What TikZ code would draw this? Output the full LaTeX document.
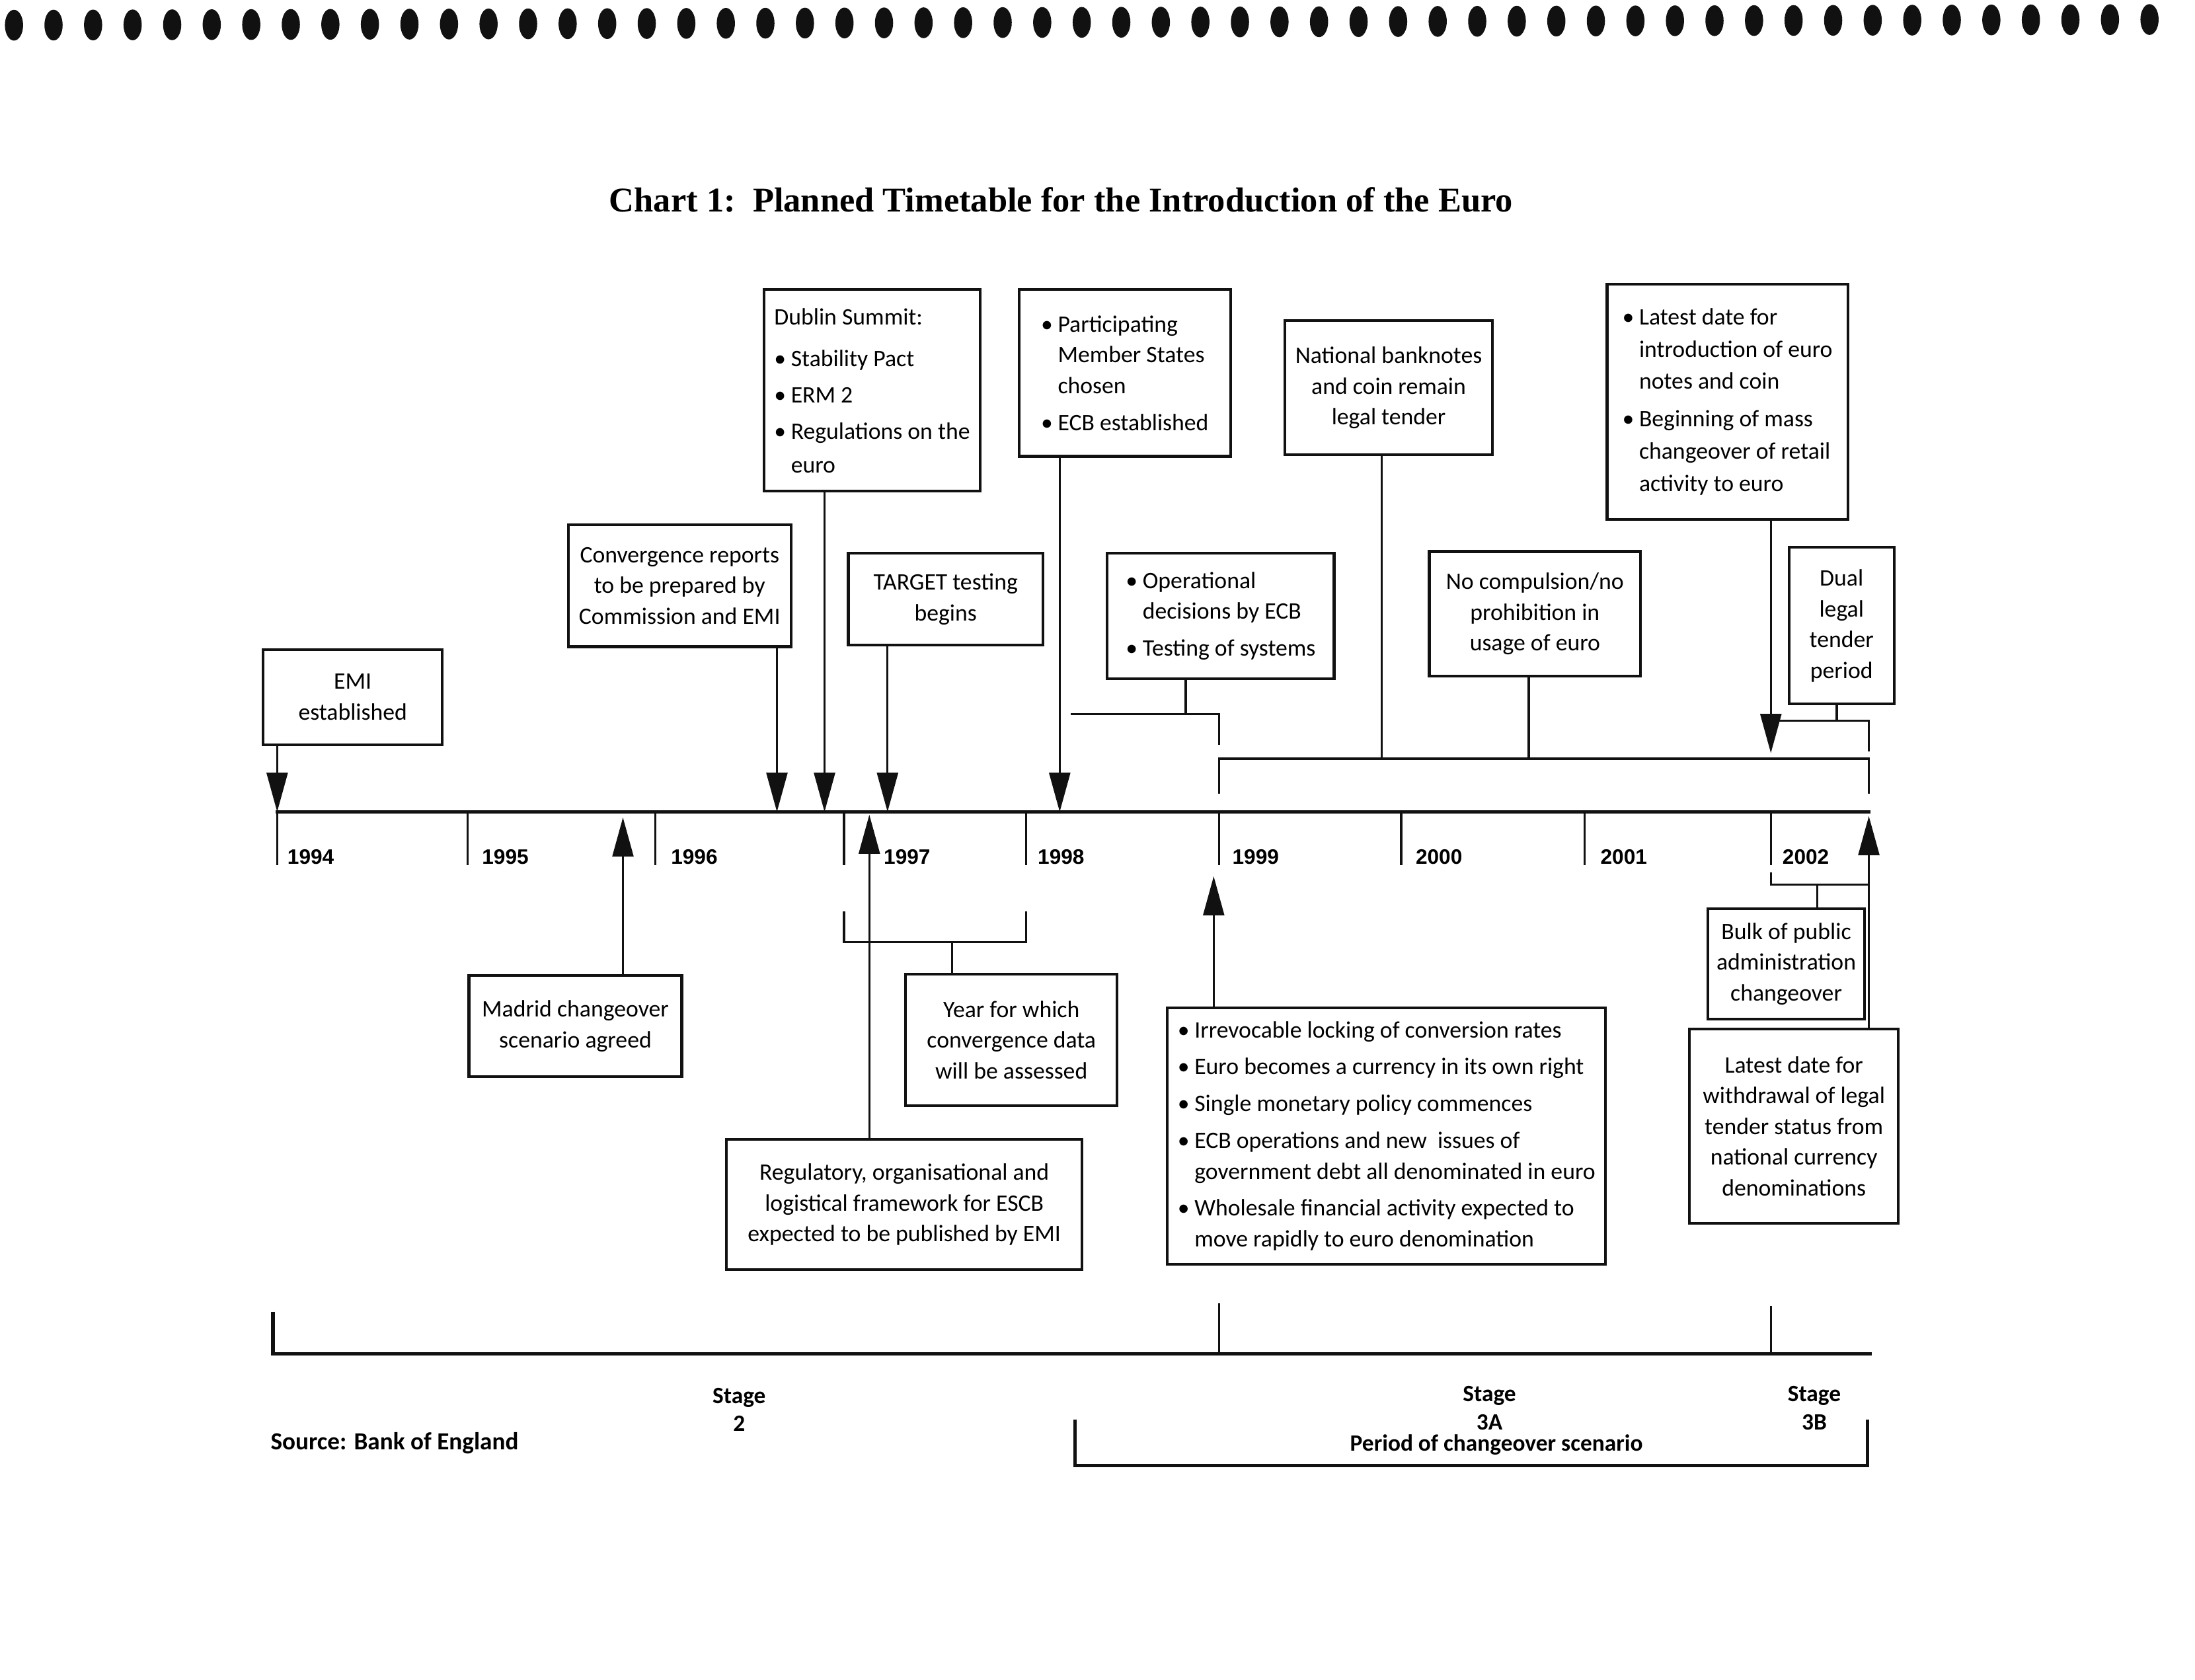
\documentclass[tikz,border=0pt]{standalone}
\usepackage{fontspec}
\setmainfont{Carlito}
\newfontfamily\titlefont{Liberation Serif}
\newfontfamily\yearfont{Liberation Sans}
\usepackage{xcolor}
\definecolor{cInk}{HTML}{111111}
\usepackage{tikz}
\usetikzlibrary{arrows.meta}
\newcommand{\bulmark}{\makebox[0.24cm][l]{\textbullet}}
\newcommand{\bulgap}{\hspace*{0.24cm}}
\tikzset{
  box-span/.style n args={4}{minimum width={(#3-#1)*0.02cm},
    minimum height={(#4-#2)*0.02cm},at={({(#1+#3)/2},{(#2+#4)/2})}},
  node-frame/.style={draw=cInk,line width=1.1pt,inner sep=0pt,
    font=\fontsize{9.6}{12.5}\selectfont},
  node-box/.style={node-frame,align=center},
  node-list/.style={node-frame,align=left},
  node-year/.style={anchor=west,inner sep=0pt,
    font=\yearfont\bfseries\fontsize{8.5}{10}\selectfont},
  node-stage/.style={align=center,inner sep=0pt,
    font=\bfseries\fontsize{9.5}{11.4}\selectfont},
  arrow/.style={-{Triangle[length=0.56cm,width=0.3cm]},line width=0.9pt,draw=cInk},
  link/.style={line width=0.9pt,draw=cInk},
  axis/.style={line width=1.4pt,draw=cInk},
}
\begin{document}
\begin{tikzpicture}[x=0.02cm,y=-0.02cm]
  \useasboundingbox (0,0) rectangle (1568,1200);
  % binding holes along the top edge
  \foreach \i in {0,...,54}
    \fill[cInk] ({10+28.25*\i},{18-0.075*\i}) ellipse [x radius=6.5,y radius=11];
  \node[font=\titlefont\bfseries\fontsize{14.1}{16}\selectfont] (title) at (758,143)
    {Chart 1:\ \ Planned Timetable for the Introduction of the Euro};

  % time axis
  \coordinate (axis-l) at (197,580);
  \coordinate (axis-r) at (1336,580);
  \draw[axis] (axis-l) -- (axis-r);
  \foreach \x in {198,334,468,603,733,871,1001,1132,1265}
    \draw[link] (\x,580) -- (\x,618);
  \foreach \yr/\x in {1994/205,1995/344,1996/479,1997/631,1998/741,%
      1999/880,2000/1011,2001/1143,2002/1273}
    \node[node-year] (yr-\yr) at (\x,612) {\yr};

  % events above the axis
  \node[node-box,box-span={188}{464}{316}{532}] (emi) {EMI\\established};
  \node[node-box,box-span={406}{375}{565}{462}] (conv)
    {Convergence reports\\to be prepared by\\Commission and EMI};
  \node[node-list,box-span={546}{207}{700}{351}] (dublin) {Dublin Summit:\\[4.5pt]%
    \bulmark Stability Pact\\[2.3pt]%
    \bulmark ERM 2\\[2.3pt]%
    \bulmark Regulations on the\\[1.1pt]%
    \bulgap euro};
  \node[node-box,box-span={606}{395}{745}{461}] (target) {TARGET testing\\begins};
  \node[node-list,box-span={728}{207}{879}{326}] (partic) {\bulmark Participating\\%
    \bulgap Member States\\%
    \bulgap chosen\\[2.5pt]%
    \bulmark ECB established};
  \node[node-list,box-span={791}{395}{953}{485}] (oper) {\bulmark Operational\\%
    \bulgap decisions by ECB\\[2.5pt]%
    \bulmark Testing of systems};
  \node[node-box,box-span={918}{229}{1066}{325}] (notes)
    {National banknotes\\and coin remain\\legal tender};
  \node[node-box,box-span={1021}{394}{1172}{483}] (nocomp)
    {No compulsion/no\\prohibition in\\usage of euro};
  \node[node-list,box-span={1148}{203}{1320}{371}] (coins) {\bulmark Latest date for\\[0.6pt]%
    \bulgap introduction of euro\\[0.6pt]%
    \bulgap notes and coin\\[2.8pt]%
    \bulmark Beginning of mass\\[0.6pt]%
    \bulgap changeover of retail\\[0.6pt]%
    \bulgap activity to euro};
  \node[node-box,box-span={1278}{391}{1353}{503}] (dual) {Dual\\legal\\tender\\period};

  % events below the axis
  \node[node-box,box-span={335}{697}{487}{769}] (madrid)
    {Madrid changeover\\scenario agreed};
  \node[node-box,box-span={519}{814}{773}{907}] (escb)
    {Regulatory, organisational and\\logistical framework for ESCB\\expected to be published by EMI};
  \node[node-box,box-span={647}{696}{798}{790}] (convdata)
    {Year for which\\convergence data\\will be assessed};
  \node[node-list,box-span={834}{720}{1147}{903}] (irrev)
    {\bulmark Irrevocable locking of conversion rates\\[2.5pt]%
    \bulmark Euro becomes a currency in its own right\\[2.5pt]%
    \bulmark Single monetary policy commences\\[2.5pt]%
    \bulmark ECB operations and new\ \ issues of\\%
    \bulgap government debt all denominated in euro\\[2.5pt]%
    \bulmark Wholesale financial activity expected to\\%
    \bulgap move rapidly to euro denomination};
  \node[node-box,box-span={1220}{649}{1332}{728}] (bulk)
    {Bulk of public\\administration\\changeover};
  \node[node-box,box-span={1207}{735}{1356}{874}] (withdraw)
    {Latest date for\\withdrawal of legal\\tender status from\\national currency\\denominations};

  % arrow tips on the axis
  \coordinate (t-emi) at (198,580);
  \coordinate (t-conv) at (555,580);
  \coordinate (t-dublin) at (589,580);
  \coordinate (t-target) at (634,580);
  \coordinate (t-partic) at (757,580);
  \coordinate (t-coins) at (1265,538);
  \coordinate (t-madrid) at (445,584);
  \coordinate (t-escb) at (621,582);
  \coordinate (t-irrev) at (867,626);
  \coordinate (t-withdraw) at (1335,583);
  \draw[arrow] (emi.south -| t-emi) -- (t-emi);
  \draw[arrow] (conv.south -| t-conv) -- (t-conv);
  \draw[arrow] (dublin.south -| t-dublin) -- (t-dublin);
  \draw[arrow] (target.south -| t-target) -- (t-target);
  \draw[arrow] (partic.south -| t-partic) -- (t-partic);
  \draw[arrow] (coins.south -| t-coins) -- (t-coins);
  \draw[arrow] (madrid.north -| t-madrid) -- (t-madrid);
  \draw[arrow] (escb.north -| t-escb) -- (t-escb);
  \draw[arrow] (irrev.north -| t-irrev) -- (t-irrev);
  \draw[arrow] (withdraw.north -| t-withdraw) -- (t-withdraw);

  % brackets marking periods
  \coordinate (b-oper) at (847,510);
  \draw[link] (oper.south -| b-oper) -- (b-oper);
  \draw[link] (765,510) -- (871,510) -- (871,532);
  \coordinate (b-euro) at (987,542);
  \coordinate (b-nocomp) at (1092,542);
  \draw[link] (871,567) -- (871,542) -- (1335,542) -- (1335,567);
  \draw[link] (notes.south -| b-euro) -- (b-euro);
  \draw[link] (nocomp.south -| b-nocomp) -- (b-nocomp);
  \coordinate (b-dual) at (1312,515);
  \draw[link] (dual.south -| b-dual) -- (b-dual);
  \draw[link] (t-coins |- b-dual) -- (1335,515) -- (1335,537);
  \coordinate (b-convdata) at (680,673);
  \draw[link] (603,651) -- (603,673) -- (733,673) -- (733,651);
  \draw[link] (b-convdata) -- (convdata.north -| b-convdata);
  \coordinate (b-bulk) at (1298,632);
  \draw[link] (1265,623) -- (1265,632) -- (1335,632);
  \draw[link] (b-bulk) -- (bulk.north -| b-bulk);

  % stages
  \draw[axis] (195,937) -- (195,967) -- (1337,967);
  \draw[link] (871,931) -- (871,967);
  \draw[link] (1265,933) -- (1265,967);
  \node[node-stage] (stage2) at (528,1007) {Stage\\2};
  \node[node-stage] (stage3a) at (1064,1006) {Stage\\3A};
  \node[node-stage] (stage3b) at (1296,1006) {Stage\\3B};
  \node[node-stage,anchor=west,font=\bfseries\fontsize{10}{12}\selectfont] (source)
    at (193,1031) {Source: Bank of England};
  \draw[axis] (768,1014) -- (768,1047) -- (1334,1047) -- (1334,1014);
  \node[node-stage] (period) at (1069,1032) {Period of changeover scenario};
\end{tikzpicture}
\end{document}
